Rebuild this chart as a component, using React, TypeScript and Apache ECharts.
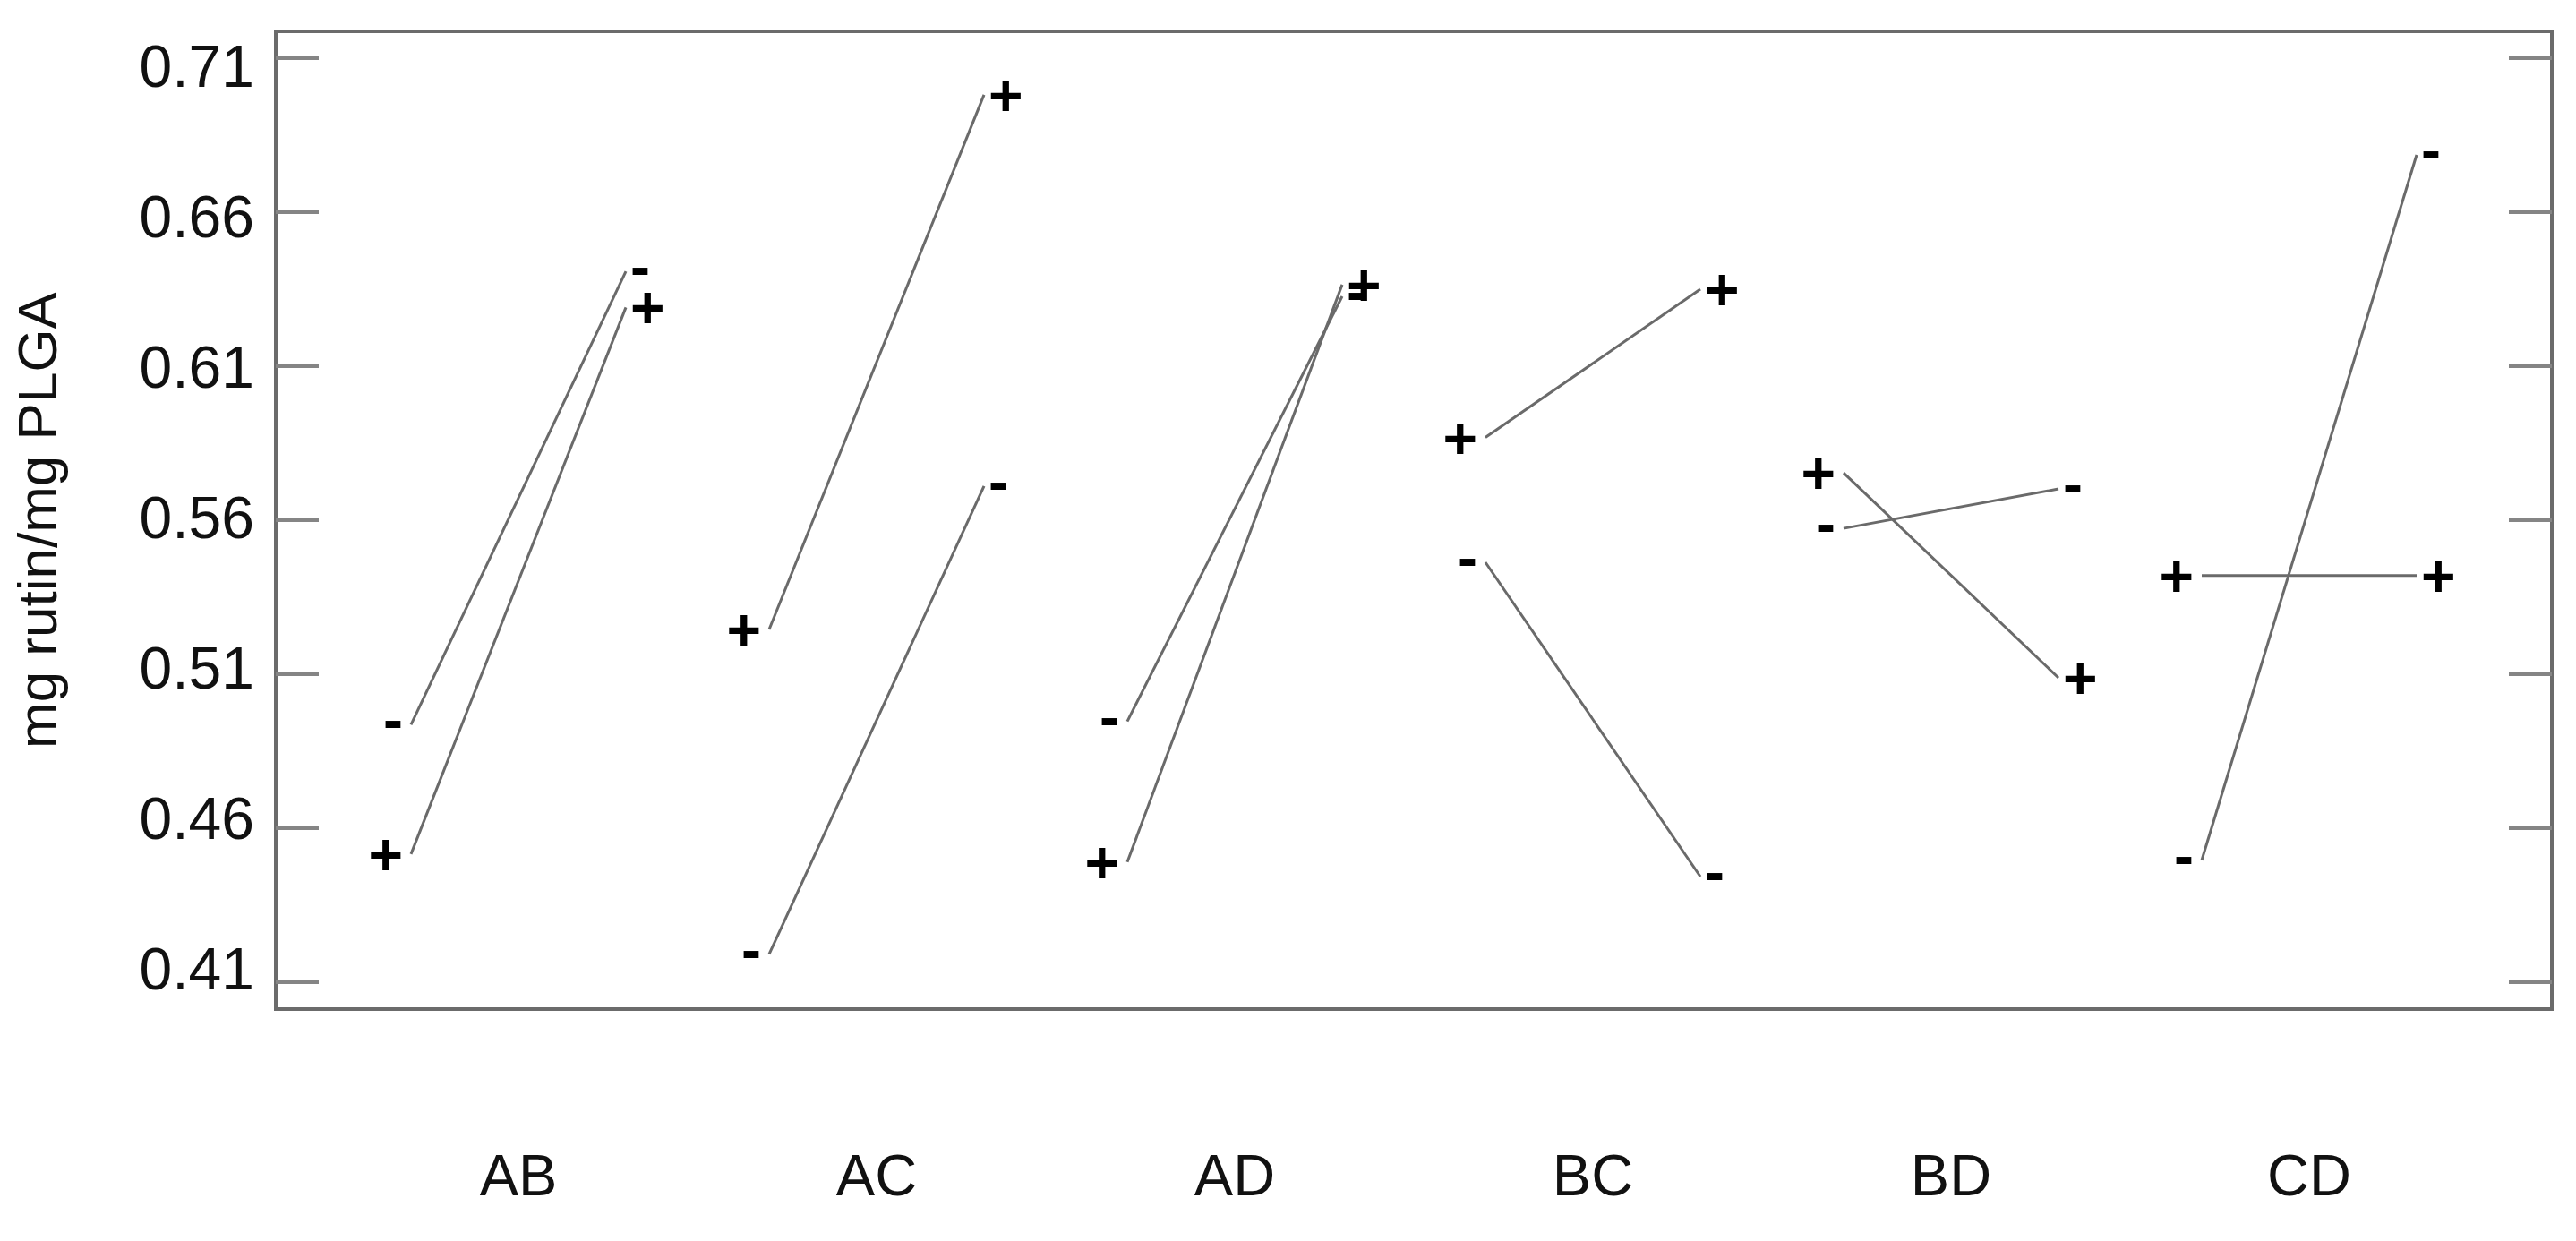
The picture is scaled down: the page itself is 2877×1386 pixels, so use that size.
import React, { useEffect, useRef } from "react";
import * as echarts from "echarts";

// Interaction plot data (left end = low level of 2nd factor, right end = high level)
const categories = ["AB", "AC", "AD", "BC", "BD", "CD"];
const plusLow = [0.4516, 0.5245, 0.449, 0.5868, 0.5753, 0.542];
const plusHigh = [0.629, 0.698, 0.6364, 0.6349, 0.5088, 0.542];
const minusLow = [0.4936, 0.4191, 0.4947, 0.5463, 0.5573, 0.4496];
const minusHigh = [0.6407, 0.571, 0.6326, 0.4443, 0.5701, 0.6785];
const yTicks = [0.41, 0.46, 0.51, 0.56, 0.61, 0.66, 0.71];
const yAxisTitle = "mg rutin/mg PLGA";

const FONT = '"Liberation Sans", Arial, sans-serif';
const SPAN = 0.6; // horizontal extent of each interaction line, in category units

export default function App() {
  const ref = useRef<HTMLDivElement>(null);

  useEffect(() => {
    if (!ref.current) return;
    const chart = echarts.init(ref.current, undefined, { renderer: "svg" });

    const data: number[][] = [];
    categories.forEach((_, i) => {
      data.push([i, minusLow[i], minusHigh[i], -1]);
      data.push([i, plusLow[i], plusHigh[i], 1]);
    });

    const markStyle = (mark: string, align: string) => ({
      text: mark,
      fontSize: 66,
      fontWeight: "bold",
      fontFamily: FONT,
      fill: "#000",
      align,
      textAlign: align,
      verticalAlign: "middle",
      textVerticalAlign: "middle",
    });

    const tickAxis = (position: string) => ({
      type: "value",
      position,
      min: 0.4013,
      max: 0.7186,
      axisLine: { show: false, onZero: false },
      axisTick: {
        show: true,
        inside: true,
        length: 48,
        customValues: yTicks,
        lineStyle: { color: "#858585", width: 4 },
      },
      axisLabel: { show: false },
      splitLine: { show: false },
    });

    const option: any = {
      animation: false,
      backgroundColor: "#ffffff",
      grid: {
        left: 308,
        right: 27,
        top: 35,
        bottom: 259,
        show: true,
        borderColor: "#6b6b6b",
        borderWidth: 4,
        backgroundColor: "transparent",
        containLabel: false,
        outerBoundsMode: "none",
      },
      xAxis: {
        type: "value",
        min: -0.3775,
        max: 5.9775,
        axisLine: { show: false, onZero: false },
        axisTick: { show: false },
        splitLine: { show: false },
        axisLabel: {
          customValues: categories.map((_, i) => i + SPAN / 2),
          formatter: (v: number) => categories[Math.round(v - SPAN / 2)] ?? "",
          fontSize: 65,
          fontFamily: FONT,
          color: "#111",
          margin: 153,
        },
      },
      yAxis: [
        {
          ...tickAxis("left"),
          name: yAxisTitle,
          nameLocation: "middle",
          nameRotate: 90,
          nameGap: 236,
          nameTextStyle: { fontSize: 62, fontFamily: FONT, color: "#111" },
        },
        tickAxis("right"),
        {
          // tick-label axis (labels in the source sit slightly off their ticks)
          type: "value",
          position: "left",
          min: 0.3966,
          max: 0.72176,
          axisLine: { show: false, onZero: false },
          axisTick: { show: false },
          splitLine: { show: false },
          axisLabel: {
            customValues: yTicks,
            formatter: (v: number) => v.toFixed(2),
            fontSize: 66,
            fontFamily: FONT,
            color: "#111",
            margin: 24,
          },
        },
      ],
      series: [
        {
          type: "custom",
          xAxisIndex: 0,
          yAxisIndex: 0,
          silent: true,
          data,
          renderItem: (params: any, api: any) => {
            const i = api.value(0);
            const lo = api.value(1);
            const hi = api.value(2);
            const sign = api.value(3);
            const p1 = api.coord([i, lo]);
            const p2 = api.coord([i + SPAN, hi]);
            const mark = sign > 0 ? "+" : "-";
            const dy = sign > 0 ? 0 : -6;
            return {
              type: "group",
              children: [
                {
                  type: "line",
                  shape: { x1: p1[0], y1: p1[1], x2: p2[0], y2: p2[1] },
                  style: { stroke: "#6a6a6a", lineWidth: 3 },
                },
                {
                  type: "text",
                  x: p1[0] - 9,
                  y: p1[1] + dy,
                  style: markStyle(mark, "right"),
                },
                {
                  type: "text",
                  x: p2[0] + 5,
                  y: p2[1] + dy,
                  style: markStyle(mark, "left"),
                },
              ],
            };
          },
        },
      ],
    };

    chart.setOption(option);
    return () => chart.dispose();
  }, []);

  return (
    <div
      ref={ref}
      style={{
        position: "fixed",
        left: 0,
        top: 0,
        width: 2877,
        height: 1386,
        background: "#fff",
      }}
    />
  );
}
